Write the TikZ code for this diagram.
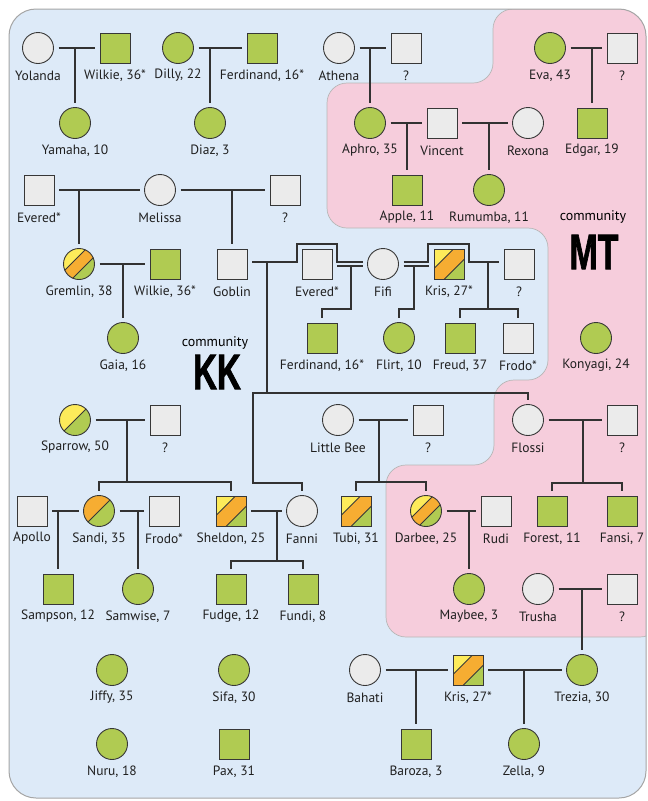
\documentclass[tikz,border=0pt]{standalone}
\usepackage{fontspec}
\setmainfont{PT Sans}
\newfontfamily\kkfont[FakeBold=1.8]{Liberation Sans Bold}
\usetikzlibrary{calc}
\definecolor{bgblue}{RGB}{221,234,248}
\definecolor{bgpink}{RGB}{246,205,220}
\definecolor{cgreen}{RGB}{176,203,82}
\definecolor{cgray}{RGB}{235,235,235}
\definecolor{cyellow}{RGB}{253,235,90}
\definecolor{corange}{RGB}{246,173,50}
\definecolor{symline}{RGB}{55,55,55}
\definecolor{conline}{RGB}{50,50,50}
\definecolor{framec}{RGB}{165,165,165}
\tikzset{
  sym/.style={draw=symline, line width=0.9pt, inner sep=0pt, outer sep=5pt},
  sqs/.style={sym, rectangle, minimum size=30pt},
  cis/.style={sym, circle, minimum size=31pt},
  lbl/.style={font=\fontsize{13.5}{15}\selectfont, text=black!88, inner sep=0pt},
  con/.style={draw=conline, line width=1.1pt},
  bandline/.style={draw=symline, line width=0.8pt},
}
% name, shape, x, y, fill, label
\newcommand\Psym[6]{\node[#2,fill=#5] (#1) at (#3,#4) {};
  \node[lbl] (#1-t) at ($(#1)+(0,27.5)$) {#6};}
% three-band square: name, x, y, label
\newcommand\Ptri[4]{\begin{scope}[shift={(#2,#3)}]
  \clip (-15,-15) rectangle (15,15);
  \fill[corange] (-15,-15) rectangle (15,15);
  \fill[cyellow] (-30,-30) -- (-30,19.5) -- (19.5,-30) -- cycle;
  \fill[cgreen] (30,30) -- (30,-19.5) -- (-19.5,30) -- cycle;
  \draw[bandline] (-30,19.5) -- (19.5,-30) (30,-19.5) -- (-19.5,30);
  \end{scope}
  \node[sqs] (#1) at (#2,#3) {};
  \node[lbl] (#1-t) at ($(#1)+(0,27.5)$) {#4};}
% three-band circle
\newcommand\Cthree[4]{\begin{scope}[shift={(#2,#3)}]
  \clip (0,0) circle (15.5pt);
  \fill[corange] (0,0) circle (15.5pt);
  \fill[cyellow] (-30,-30) -- (-30,22) -- (22,-30) -- cycle;
  \fill[cgreen] (30,30) -- (30,-22) -- (-22,30) -- cycle;
  \draw[bandline] (-30,22) -- (22,-30) (30,-22) -- (-22,30);
  \end{scope}
  \node[cis] (#1) at (#2,#3) {};
  \node[lbl] (#1-t) at ($(#1)+(0,27.5)$) {#4};}
% half circle: name, x, y, top colour, label
\newcommand\Chalf[5]{\begin{scope}[shift={(#2,#3)}]
  \clip (0,0) circle (15.5pt);
  \fill[cgreen] (0,0) circle (15.5pt);
  \fill[#4] (-30,-30) -- (-30,30) -- (30,-30) -- cycle;
  \draw[bandline] (-30,30) -- (30,-30);
  \end{scope}
  \node[cis] (#1) at (#2,#3) {};
  \node[lbl] (#1-t) at ($(#1)+(0,27.5)$) {#5};}
\begin{document}
\begin{tikzpicture}[x=1pt,y=-1pt]
\useasboundingbox (0,0) rectangle (648,801);
% backgrounds
\fill[bgblue] [rounded corners=27pt] (9,9) rectangle (646,798);
\begin{scope}
  \clip [rounded corners=27pt] (9,9) rectangle (646,798);
  \filldraw[fill=bgpink, draw=framec!80, line width=0.7pt] [rounded corners=20pt]
    (493,9) -- (660,9) -- (660,637) -- (386,637) -- (386,465) -- (494,465)
    -- (494,380) -- (548,380) -- (548,228) -- (327,228) -- (327,83) -- (493,83) -- cycle;
\end{scope}
\draw[framec, line width=1pt] [rounded corners=27pt] (9,9) rectangle (646,798);

% community labels
\node[font=\fontsize{14}{16}\selectfont, inner sep=0pt] (kkc) at (215,343) {community};
\node[font=\kkfont\fontsize{50}{50}\selectfont, inner sep=0pt] (kk) at (217,372) {\scalebox{0.66}[1]{KK}};
\node[font=\fontsize{14}{16}\selectfont, inner sep=0pt] (mtc) at (593,217) {community};
\node[font=\kkfont\fontsize{50}{50}\selectfont, inner sep=0pt] (mt) at (594,252) {\scalebox{0.68}[1]{MT}};

% row 1
\Psym{yol}{cis}{38}{48}{cgray}{Yolanda}
\Psym{wil1}{sqs}{115}{48}{cgreen}{Wilkie, 36*}
\Psym{dil}{cis}{178}{48}{cgreen}{Dilly, 22}
\Psym{fer1}{sqs}{262}{48}{cgreen}{Ferdinand, 16*}
\Psym{ath}{cis}{339}{48}{cgray}{Athena}
\Psym{q1}{sqs}{406}{48}{cgray}{?}
\Psym{eva}{cis}{550}{48}{cgreen}{Eva, 43}
\Psym{q2}{sqs}{622}{48}{cgray}{?}
% row 2
\Psym{yam}{cis}{75}{123}{cgreen}{Yamaha, 10}
\Psym{dia}{cis}{210}{123}{cgreen}{Diaz, 3}
\Psym{aph}{cis}{370}{123}{cgreen}{Aphro, 35}
\Psym{vin}{sqs}{442}{123}{cgray}{Vincent}
\Psym{rex}{cis}{528}{123}{cgray}{Rexona}
\Psym{edg}{sqs}{592}{123}{cgreen}{Edgar, 19}
% row 2b
\Psym{ev1}{sqs}{39}{190}{cgray}{Evered*}
\Psym{mel}{cis}{160}{190}{cgray}{Melissa}
\Psym{q3}{sqs}{285}{190}{cgray}{?}
\Psym{app}{sqs}{407}{190}{cgreen}{Apple, 11}
\Psym{rum}{cis}{489}{190}{cgreen}{Rumumba, 11}
% row 3
\Cthree{gre}{79}{264}{Gremlin, 38}
\Psym{wil2}{sqs}{165}{264}{cgreen}{Wilkie, 36*}
\Psym{gob}{sqs}{232}{264}{cgray}{Goblin}
\Psym{ev2}{sqs}{317}{264}{cgray}{Evered*}
\Psym{fifi}{cis}{383}{264}{cgray}{Fifi}
\Ptri{kris1}{449}{264}{Kris, 27*}
\Psym{q4}{sqs}{519}{264}{cgray}{?}
% row 4
\Psym{gaia}{cis}{123}{338}{cgreen}{Gaia, 16}
\Psym{fer2}{sqs}{322}{338}{cgreen}{Ferdinand, 16*}
\Psym{fli}{cis}{399}{338}{cgreen}{Flirt, 10}
\Psym{fre}{sqs}{460}{338}{cgreen}{Freud, 37}
\Psym{fro1}{sqs}{518}{338}{cgray}{Frodo*}
\Psym{kon}{cis}{596}{338}{cgreen}{Konyagi, 24}
% row 5
\Chalf{spa}{75}{420}{cyellow}{Sparrow, 50}
\Psym{q5}{sqs}{165}{420}{cgray}{?}
\Psym{lbee}{cis}{338}{420}{cgray}{Little Bee}
\Psym{q6}{sqs}{428}{420}{cgray}{?}
\Psym{flo}{cis}{528}{420}{cgray}{Flossi}
\Psym{q7}{sqs}{622}{420}{cgray}{?}
% row 6
\Psym{apo}{sqs}{32}{511}{cgray}{Apollo}
\Chalf{san}{99}{511}{corange}{Sandi, 35}
\Psym{fro2}{sqs}{164}{511}{cgray}{Frodo*}
\Ptri{she}{231}{511}{Sheldon, 25}
\Psym{fan}{cis}{302}{511}{cgray}{Fanni}
\Ptri{tub}{356}{511}{Tubi, 31}
\Cthree{dar}{426}{511}{Darbee, 25}
\Psym{rud}{sqs}{496}{511}{cgray}{Rudi}
\Psym{fore}{sqs}{552}{511}{cgreen}{Forest, 11}
\Psym{fans}{sqs}{622}{511}{cgreen}{Fansi, 7}
% row 7
\Psym{samp}{sqs}{58}{589}{cgreen}{Sampson, 12}
\Psym{samw}{cis}{138}{589}{cgreen}{Samwise, 7}
\Psym{fud}{sqs}{231}{589}{cgreen}{Fudge, 12}
\Psym{fun}{sqs}{303}{589}{cgreen}{Fundi, 8}
\Psym{may}{cis}{469}{589}{cgreen}{Maybee, 3}
\Psym{tru}{cis}{538}{589}{cgray}{Trusha}
\Psym{q8}{sqs}{622}{589}{cgray}{?}
% row 8
\Psym{jif}{cis}{112}{670}{cgreen}{Jiffy, 35}
\Psym{sif}{cis}{234}{670}{cgreen}{Sifa, 30}
\Psym{bah}{cis}{365}{670}{cgray}{Bahati}
\Ptri{kris2}{468}{670}{Kris, 27*}
\Psym{tre}{cis}{582}{670}{cgreen}{Trezia, 30}
% row 9
\Psym{nur}{cis}{112}{744}{cgreen}{Nuru, 18}
\Psym{pax}{sqs}{234}{744}{cgreen}{Pax, 31}
\Psym{bar}{sqs}{416}{744}{cgreen}{Baroza, 3}
\Psym{zel}{cis}{524}{744}{cgreen}{Zella, 9}

% helper coordinates
\coordinate (sb1) at (127,482);
\coordinate (sb2) at (379,482);
\coordinate (sb3) at (583,483);
\coordinate (sb4) at (277,561);
\coordinate (sb5) at (351,309);
\coordinate (sb6) at (414,309);
\coordinate (sb7) at (488,309);
\coordinate (sb8) at (267,393);
\coordinate (sb9) at (253,483);
\coordinate (hA) at (297,244);
\coordinate (hB) at (337,262);
\coordinate (hC) at (428,244);
\coordinate (hD) at (469,262);
\coordinate (gobU) at ($(gob.east)+(0,-2)$);
\coordinate (ev2L) at ($(ev2.east)+(0,2)$);
\coordinate (fifiWU) at ($(fifi.west)+(0,-2)$);
\coordinate (fifiWL) at ($(fifi.west)+(0,2)$);
\coordinate (fifiEU) at ($(fifi.east)+(0,-2)$);
\coordinate (fifiEL) at ($(fifi.east)+(0,2)$);
\coordinate (krisWL) at ($(kris1.west)+(0,2)$);
\coordinate (q4U) at ($(q4.west)+(0,-2)$);

% connectors
\draw[con] (yol.east) -- (wil1.west);  \draw[con] (yol.east -| yam) -- (yam.north);
\draw[con] (dil.east) -- (fer1.west);  \draw[con] (dil.east -| dia) -- (dia.north);
\draw[con] (ath.east) -- (q1.west);    \draw[con] (ath.east -| aph) -- (aph.north);
\draw[con] (eva.east) -- (q2.west);    \draw[con] (eva.east -| edg) -- (edg.north);
\draw[con] (aph.east) -- (vin.west);   \draw[con] (aph.east -| app) -- (app.north);
\draw[con] (vin.east) -- (rex.west);   \draw[con] (vin.east -| rum) -- (rum.north);
\draw[con] (ev1.east) -- (mel.west);   \draw[con] (ev1.east -| gre) -- (gre.north);
\draw[con] (mel.east) -- (q3.west);    \draw[con] (mel.east -| gob) -- (gob.north);
\draw[con] (gre.east) -- (wil2.west);  \draw[con] (gre.east -| gaia) -- (gaia.north);
% Goblin - Fifi hop over Evered
\draw[con] (gobU) -| (hA) -| (hB) -- (fifiWU);
\draw[con] (ev2L) -- (fifiWL);
\draw[con] (sb5 |- ev2L) -- (sb5) -| (fer2.north);
% Fifi - Kris, and Fifi - ? hop over Kris
\draw[con] (fifiEL) -- (krisWL);
\draw[con] (sb6 |- fifiEL) -- (sb6) -| (fli.north);
\draw[con] (fifiEU) -| (hC) -| (hD) -- (q4U);
\draw[con] (sb7 |- q4U) -- (sb7);
\draw[con] (fre.north) |- (sb7) -| (fro1.north);
% Goblin's children
\draw[con] (sb8 |- gobU) -- (sb8);
\draw[con] (flo.north) |- (sb8) -- (sb8 -| sb9) -- (sb9) -| (fan.north);
% lower generations
\draw[con] (spa.east) -- (q5.west);    \draw[con] (sb1 |- spa.east) -- (sb1);
\draw[con] (san.north) |- (sb1) -| (she.north);
\draw[con] (lbee.east) -- (q6.west);   \draw[con] (sb2 |- lbee.east) -- (sb2);
\draw[con] (tub.north) |- (sb2) -| (dar.north);
\draw[con] (flo.east) -- (q7.west);    \draw[con] (sb3 |- flo.east) -- (sb3);
\draw[con] (fore.north) |- (sb3) -| (fans.north);
\draw[con] (apo.east) -- (san.west);   \draw[con] (apo.east -| samp) -- (samp.north);
\draw[con] (san.east) -- (fro2.west);  \draw[con] (san.east -| samw) -- (samw.north);
\draw[con] (she.east) -- (fan.west);   \draw[con] (sb4 |- she.east) -- (sb4);
\draw[con] (fud.north) |- (sb4) -| (fun.north);
\draw[con] (dar.east) -- (rud.west);   \draw[con] (dar.east -| may) -- (may.north);
\draw[con] (tru.east) -- (q8.west);    \draw[con] (tru.east -| tre) -- (tre.north);
\draw[con] (bah.east) -- (kris2.west); \draw[con] (bah.east -| bar) -- (bar.north);
\draw[con] (kris2.east) -- (tre.west); \draw[con] (kris2.east -| zel) -- (zel.north);
\end{tikzpicture}
\end{document}
